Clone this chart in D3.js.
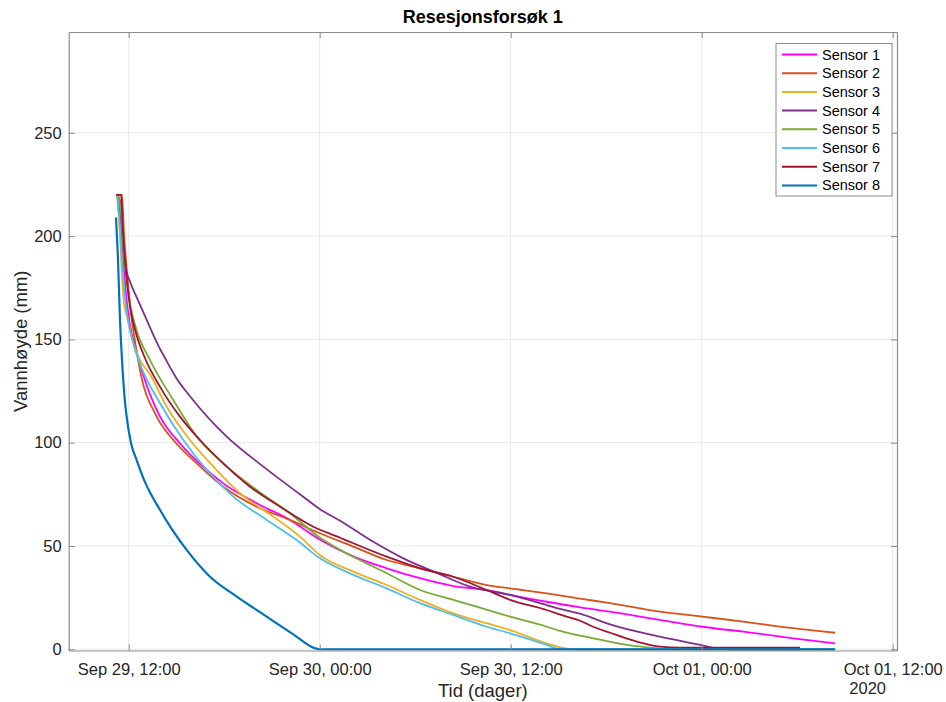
<!DOCTYPE html>
<html>
<head>
<meta charset="utf-8">
<script src="https://cdn.jsdelivr.net/npm/d3@7"></script>
<style>
  html, body { margin: 0; padding: 0; background: #fff; }
  svg { display: block; font-family: "Liberation Sans", Arial, Helvetica, sans-serif; }
</style>
</head>
<body>
<svg id="chart" width="946" height="702"></svg>
<script>
// Recession test 1: water level per sensor.
// Time is given in hours after 2020-09-29 00:00 (UTC), water level in mm.
const baseTime = Date.UTC(2020, 8, 29, 0, 0);

const sensorNames = ["Sensor 1", "Sensor 2", "Sensor 3", "Sensor 4", "Sensor 5", "Sensor 6", "Sensor 7", "Sensor 8"];
const sensorColors = ["#FF00FF", "#D95319", "#EDB120", "#7E2F8E", "#77AC30", "#4DBEEE", "#A2142F", "#0072BD"];

const sensor1 = [[11.27,220],[11.52,215],[11.64,192],[11.83,172],[12.08,157],[12.46,145],[12.90,133],[13.97,112.6],[15.22,99.7],[16.90,86.8],[17.94,80.3],[20.04,70.7],[22.13,62.6],[24.02,53],[26.11,45],[28.21,39.2],[30.30,34.4],[32.39,30.6],[34.49,28.7],[35.96,26.3],[38.26,23.0],[40.36,20.3],[42.24,18.2],[45.38,14.2],[48.02,10.9],[50.61,8.5],[53.75,5.3],[56.38,2.9]];
const sensor2 = [[11.27,220],[11.58,220],[11.70,202],[11.89,183],[12.14,163],[12.46,146],[12.71,135],[13.76,112.6],[14.80,101.3],[16.27,90],[17.94,78.7],[20.04,69],[22.13,62.6],[23.89,56.5],[26.11,49.7],[28.21,43.2],[30.30,39.2],[32.39,35.1],[34.49,31.1],[35.96,29.5],[38.26,27.1],[40.36,24.5],[42.24,22.3],[45.38,18.2],[48.02,15.8],[50.61,13.4],[53.75,10.2],[56.38,8.0]];
const sensor3 = [[11.27,220],[11.45,200],[11.58,180],[11.70,168],[11.89,161],[12.21,150],[12.71,140],[13.34,133],[14.39,117.4],[15.85,101.3],[17.32,88.4],[18.99,75.5],[21.08,64.2],[22.76,54.5],[24.02,45.5],[26.11,37.6],[28.21,31.1],[30.30,23.9],[32.39,17.4],[34.49,12.6],[35.96,9.3],[38.26,2.9],[39.54,0.3],[40.36,0],[56.38,0]];
const sensor4 = [[11.33,220],[11.52,205],[11.66,193],[11.77,186],[12.08,178],[12.58,169],[13.13,159.4],[13.86,147],[14.28,141],[15.02,131],[15.85,122.5],[18.16,102.9],[20.46,88.4],[22.76,75],[24.02,67.8],[25.28,62.2],[27.37,52],[29.25,44],[31.35,37],[33.44,30.3],[35.96,26.3],[38.26,21.4],[39.10,19.5],[40.54,16.8],[42.24,12],[45.38,6.1],[47.90,2.1],[48.84,0.5],[49.78,0],[54.18,0]];
const sensor5 = [[11.27,220],[11.52,212],[11.70,192],[11.96,173],[12.40,157],[13.34,140],[14.80,120.7],[16.27,102.9],[17.94,90],[20.04,77.1],[22.13,65.8],[24.02,54],[25.28,48.2],[26.11,44.8],[28.21,36.8],[30.30,28.7],[32.39,23.9],[33.86,20.6],[35.96,15.8],[38.26,10.9],[39.10,8.9],[41.19,5.3],[43.31,2.1],[44.75,0.8],[46.01,0],[56.38,0]];
const sensor6 = [[11.27,220],[11.45,205],[11.64,182],[11.83,166],[12.08,155],[12.40,145],[12.71,138],[13.97,119.1],[15.43,101.3],[16.90,86.8],[18.57,73.9],[20.67,62.6],[22.55,52.9],[24.02,44],[26.11,36],[28.21,29.5],[30.30,22.3],[32.39,16.6],[34.49,10.9],[35.96,7.7],[38.26,2.1],[38.91,0.3],[39.73,0],[56.38,0]];
const sensor7 = [[11.20,220],[11.52,220],[11.64,202],[11.83,183],[12.08,166],[12.46,153],[13.02,141],[13.97,127],[15.22,112.6],[16.48,101.3],[17.94,90],[19.62,78.7],[21.51,69],[23.60,59.3],[25.28,54],[26.11,51.3],[28.21,44.8],[30.30,39.2],[32.39,35.1],[34.49,28.7],[35.96,23.9],[38.26,19],[39.41,16],[40.36,13.8],[41.19,10.9],[42.24,8],[43.93,3.7],[45.38,1.3],[46.64,0.8],[54.18,0.8]];
const sensor8 = [[11.20,209],[11.33,188],[11.45,160],[11.58,140],[11.74,122],[11.87,112.6],[12.14,100],[12.50,91.6],[13.02,81],[13.97,67.4],[14.72,58],[15.64,48.1],[17.11,35.1],[18.79,25.5],[20.67,15.8],[22.34,7.2],[23.60,0.8],[23.96,0],[56.38,0]];

const sensorData = [sensor1, sensor2, sensor3, sensor4, sensor5, sensor6, sensor7, sensor8];

const xDomainHours = [8.23, 60.27];
const xTickHours = [12, 24, 36, 48, 60];
const yDomain = [-0.6, 298.8];
const yTicks = [0, 50, 100, 150, 200, 250];

const titleText = "Resesjonsforsøk 1";
const xLabelText = "Tid (dager)";
const yLabelText = "Vannhøyde (mm)";
const yearText = "2020";

const toDate = h => new Date(baseTime + h * 3600e3);

const margin = { left: 68.7, right: 49, top: 32, bottom: 51.5 };
const W = 946, H = 702;
const svg = d3.select("#chart");

const x = d3.scaleUtc()
  .domain(xDomainHours.map(toDate))
  .range([margin.left, W - margin.right]);
const y = d3.scaleLinear()
  .domain(yDomain)
  .range([H - margin.bottom, margin.top]);

const axisGray = "#8c8c8c";
const textGray = "#262626";
const gridGray = "#e8e8e8";

// grid
const grid = svg.append("g");
grid.selectAll("line.gx").data(xTickHours).join("line")
  .attr("x1", d => x(toDate(d))).attr("x2", d => x(toDate(d)))
  .attr("y1", margin.top).attr("y2", H - margin.bottom)
  .attr("stroke", gridGray).attr("stroke-width", 1);
grid.selectAll("line.gy").data(yTicks).join("line")
  .attr("x1", margin.left).attr("x2", W - margin.right)
  .attr("y1", d => y(d)).attr("y2", d => y(d))
  .attr("stroke", gridGray).attr("stroke-width", 1);

// series
const line = d3.line()
  .curve(d3.curveMonotoneX)
  .x(d => x(toDate(d[0])))
  .y(d => y(d[1]));

const plotArea = svg.append("g");
sensorData.forEach((data, i) => {
  plotArea.append("path")
    .datum(data)
    .attr("fill", "none")
    .attr("stroke", sensorColors[i])
    .attr("stroke-width", i === 7 ? 2.2 : 1.8)
    .attr("stroke-linejoin", "round")
    .attr("d", line);
});

// axes (ticks point inward, mirrored on the opposite sides)
const fmt = d3.utcFormat("%b %d, %H:%M");
const xAxisBottom = d3.axisBottom(x)
  .tickValues(xTickHours.map(toDate))
  .tickFormat(fmt)
  .tickSizeInner(-6).tickSizeOuter(0).tickPadding(13);
const gxb = svg.append("g")
  .attr("transform", `translate(0,${H - margin.bottom})`)
  .call(xAxisBottom);

const xAxisTop = d3.axisTop(x)
  .tickValues(xTickHours.map(toDate))
  .tickFormat("")
  .tickSizeInner(-6).tickSizeOuter(0);
const gxt = svg.append("g")
  .attr("transform", `translate(0,${margin.top})`)
  .call(xAxisTop);

const yAxisLeft = d3.axisLeft(y)
  .tickValues(yTicks)
  .tickSizeInner(-6).tickSizeOuter(0).tickPadding(7);
const gyl = svg.append("g")
  .attr("transform", `translate(${margin.left},0)`)
  .call(yAxisLeft);

const yAxisRight = d3.axisRight(y)
  .tickValues(yTicks)
  .tickFormat("")
  .tickSizeInner(-6).tickSizeOuter(0);
const gyr = svg.append("g")
  .attr("transform", `translate(${W - margin.right},0)`)
  .call(yAxisRight);

[gxb, gxt, gyl, gyr].forEach(g => {
  g.select(".domain").attr("stroke", axisGray).attr("stroke-width", 1.2);
  g.selectAll(".tick line").attr("stroke", axisGray);
  g.selectAll(".tick text")
    .attr("fill", textGray)
    .style("font-size", "16.5px")
    .style("font-family", "\"Liberation Sans\", Arial, sans-serif");
});

// year label under the last tick
svg.append("text")
  .attr("x", x(toDate(xTickHours[xTickHours.length - 1])) - 25)
  .attr("y", 694)
  .attr("text-anchor", "middle")
  .attr("fill", textGray)
  .style("font-size", "16.5px")
  .text(yearText);

// title and axis labels
svg.append("text")
  .attr("x", (margin.left + W - margin.right) / 2)
  .attr("y", 23)
  .attr("text-anchor", "middle")
  .attr("fill", "#000")
  .style("font-size", "18px")
  .style("font-weight", "bold")
  .text(titleText);

svg.append("text")
  .attr("x", (margin.left + W - margin.right) / 2)
  .attr("y", 697)
  .attr("text-anchor", "middle")
  .attr("fill", textGray)
  .style("font-size", "18.5px")
  .text(xLabelText);

svg.append("text")
  .attr("transform", `translate(27,${(margin.top + H - margin.bottom) / 2}) rotate(-90)`)
  .attr("text-anchor", "middle")
  .attr("fill", textGray)
  .style("font-size", "18.5px")
  .text(yLabelText);

// legend
const legend = svg.append("g").attr("transform", "translate(776,43.5)");
legend.append("rect")
  .attr("width", 116).attr("height", 152.5)
  .attr("fill", "#fff")
  .attr("stroke", "#8c8c8c").attr("stroke-width", 1);
sensorNames.forEach((name, i) => {
  const ry = 11 + i * 18.7;
  legend.append("line")
    .attr("x1", 6).attr("x2", 41)
    .attr("y1", ry).attr("y2", ry)
    .attr("stroke", sensorColors[i]).attr("stroke-width", 2);
  legend.append("text")
    .attr("x", 46).attr("y", ry + 5)
    .attr("fill", "#000")
    .style("font-size", "14.5px")
    .text(name);
});
</script>
</body>
</html>
